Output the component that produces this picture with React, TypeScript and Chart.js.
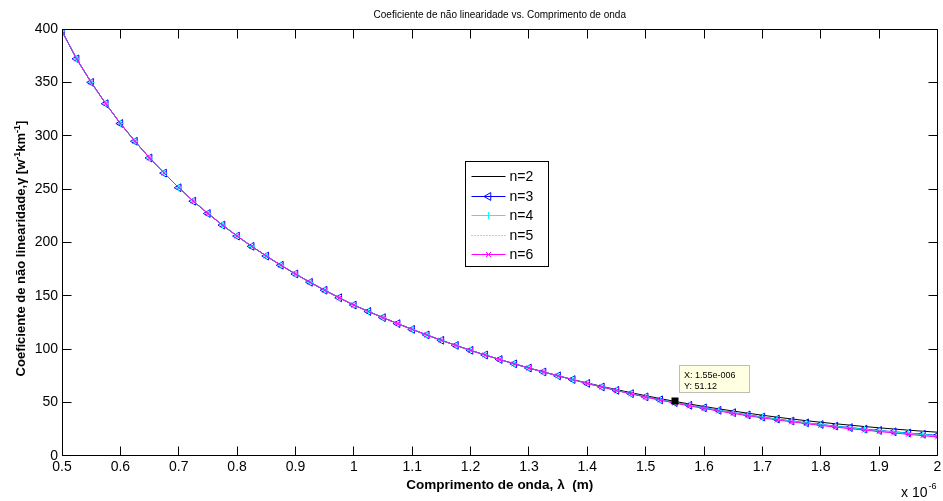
import React, { useEffect, useRef } from "react";
import { Chart, registerables } from "chart.js";

Chart.register(...registerables);

// ---- data (wavelength in µm, shown with "x 10^-6" multiplier) ----
const wavelengthUm = [
  0.5, 0.525, 0.55, 0.575, 0.6, 0.625, 0.65, 0.675, 0.7, 0.725,
  0.75, 0.775, 0.8, 0.825, 0.85, 0.875, 0.9, 0.925, 0.95, 0.975,
  1.0, 1.025, 1.05, 1.075, 1.1, 1.125, 1.15, 1.175, 1.2, 1.225,
  1.25, 1.275, 1.3, 1.325, 1.35, 1.375, 1.4, 1.425, 1.45, 1.475,
  1.5, 1.525, 1.55, 1.575, 1.6, 1.625, 1.65, 1.675, 1.7, 1.725,
  1.75, 1.775, 1.8, 1.825, 1.85, 1.875, 1.9, 1.925, 1.95, 1.975, 2.0,
];

// common part of all curves (0.5 .. 1.375 µm)
const gammaShared = [
  398, 372, 350, 330, 311.5, 294.8, 279.2, 265, 251.3, 238.7,
  227.2, 216.3, 206, 196.4, 187.3, 178.7, 170.5, 162.7, 155.3, 148.2,
  141.4, 135.4, 129.6, 124.0, 118.6, 113.4, 108.4, 103.6, 99.0, 94.6,
  90.4, 86.3, 82.4, 78.7, 75.1, 71.6,
];

// 1.4 .. 2.0 µm, per series
const gammaTailN2 = [68.4, 65.2, 62.2, 59.3, 56.5, 53.8, 51.12, 48.7, 46.4, 44.2, 42.1, 40.1, 38.2, 36.4, 34.7, 33.1, 31.6, 30.2, 28.9, 27.6, 26.4, 25.3, 24.2, 23.2, 22.3];
const gammaTailN3 = [68.0, 64.7, 61.5, 58.4, 55.4, 52.6, 50.0, 47.5, 45.1, 42.8, 40.6, 38.5, 36.5, 34.6, 32.8, 31.1, 29.5, 28.0, 26.6, 25.2, 23.9, 22.7, 21.5, 20.4, 19.3];
const gammaTailN4 = [68.0, 64.7, 61.5, 58.4, 55.4, 52.5, 49.9, 47.3, 44.9, 42.6, 40.4, 38.3, 36.3, 34.4, 32.6, 30.9, 29.3, 27.8, 26.3, 24.9, 23.6, 22.4, 21.2, 20.1, 19.0];
const gammaTailN5 = [67.9, 64.6, 61.4, 58.3, 55.3, 52.4, 49.7, 47.1, 44.7, 42.4, 40.1, 38.0, 36.0, 34.1, 32.3, 30.6, 29.0, 27.4, 25.9, 24.5, 23.2, 22.0, 20.8, 19.7, 18.6];
const gammaTailN6 = [67.9, 64.6, 61.3, 58.2, 55.2, 52.3, 49.6, 47.0, 44.5, 42.1, 39.9, 37.7, 35.7, 33.8, 32.0, 30.3, 28.6, 27.1, 25.6, 24.2, 22.9, 21.6, 20.3, 19.0, 17.8];

const seriesLabels = ["n=2", "n=3", "n=4", "n=5", "n=6"];
const xTickValues = [0.5, 0.6, 0.7, 0.8, 0.9, 1.0, 1.1, 1.2, 1.3, 1.4, 1.5, 1.6, 1.7, 1.8, 1.9, 2.0];
const yTickValues = [0, 50, 100, 150, 200, 250, 300, 350, 400];

const chartTitle = "Coeficiente de não linearidade vs. Comprimento de onda";
const xAxisTitle = "Comprimento de onda, λ  (m)";
// y axis title pieces: [text, isSuperscript]
const yAxisTitleParts: [string, boolean][] = [
  ["Coeficiente de não linearidade,γ [w", false],
  ["-1", true],
  ["km", false],
  ["-1", true],
  ["]", false],
];
const xExponentBase = "x 10";
const xExponentPower = "-6";
const datatipX = 1.55;
const datatipY = 51.12;
const datatipLines = ["X: 1.55e-006", "Y: 51.12"];

const FONT = '"Liberation Sans", Arial, Helvetica, sans-serif';

type SeriesStyle = { color: string; marker: "none" | "triangleLeft" | "plus" | "x"; dash: number[] };
const seriesStyles: SeriesStyle[] = [
  { color: "#000000", marker: "none", dash: [] },
  { color: "#0000ff", marker: "triangleLeft", dash: [] },
  { color: "#00ffff", marker: "plus", dash: [] },
  { color: "#00ff00", marker: "none", dash: [1, 2] },
  { color: "#ff00ff", marker: "x", dash: [] },
];

function drawMarker(ctx: CanvasRenderingContext2D, kind: string, x: number, y: number, color: string) {
  ctx.save();
  ctx.strokeStyle = color;
  ctx.lineWidth = 1;
  ctx.setLineDash([]);
  ctx.beginPath();
  if (kind === "triangleLeft") {
    const r = 4.5;
    let rad = (270 * Math.PI) / 180;
    ctx.moveTo(x + Math.sin(rad) * r, y - Math.cos(rad) * r);
    rad += (2 * Math.PI) / 3;
    ctx.lineTo(x + Math.sin(rad) * r, y - Math.cos(rad) * r);
    rad += (2 * Math.PI) / 3;
    ctx.lineTo(x + Math.sin(rad) * r, y - Math.cos(rad) * r);
    ctx.closePath();
  } else if (kind === "plus") {
    ctx.moveTo(x - 3.5, y);
    ctx.lineTo(x + 3.5, y);
    ctx.moveTo(x, y - 3.5);
    ctx.lineTo(x, y + 3.5);
  } else if (kind === "x") {
    ctx.moveTo(x - 2.5, y - 2.5);
    ctx.lineTo(x + 2.5, y + 2.5);
    ctx.moveTo(x - 2.5, y + 2.5);
    ctx.lineTo(x + 2.5, y - 2.5);
  }
  ctx.stroke();
  ctx.restore();
}

const matlabDecor = {
  id: "matlabDecor",
  beforeDraw(chart: any) {
    const { ctx, width, height } = chart;
    ctx.save();
    ctx.fillStyle = "#ffffff";
    ctx.fillRect(0, 0, width, height);
    ctx.restore();
  },
  afterDraw(chart: any) {
    const { ctx, chartArea: ca } = chart;
    const xs = chart.scales.x;
    const ys = chart.scales.y;
    const L = Math.floor(ca.left) + 0.5;
    const R = Math.ceil(ca.right) - 0.5;
    const T = Math.floor(ca.top) + 0.5;
    const B = Math.ceil(ca.bottom) - 0.5;
    const tick = 9;
    ctx.save();
    ctx.strokeStyle = "#000";
    ctx.lineWidth = 1;
    ctx.setLineDash([]);
    ctx.beginPath();
    ctx.rect(L, T, R - L, B - T);
    xTickValues.forEach((v) => {
      const px = Math.min(Math.max(Math.floor(xs.getPixelForValue(v)) + 0.5, L), R);
      ctx.moveTo(px, B);
      ctx.lineTo(px, B - tick);
      ctx.moveTo(px, T);
      ctx.lineTo(px, T + tick);
    });
    yTickValues.forEach((v) => {
      const py = Math.min(Math.max(Math.floor(ys.getPixelForValue(v)) + 0.5, T), B);
      ctx.moveTo(L, py);
      ctx.lineTo(L + tick, py);
      ctx.moveTo(R, py);
      ctx.lineTo(R - tick, py);
    });
    ctx.stroke();

    // y axis title (rotated, with superscripts)
    const mainFont = `bold 13px ${FONT}`;
    const supFont = `bold 9px ${FONT}`;
    let total = 0;
    yAxisTitleParts.forEach(([t, sup]) => {
      ctx.font = sup ? supFont : mainFont;
      total += ctx.measureText(t).width;
    });
    ctx.save();
    ctx.translate(20.5, (ca.top + ca.bottom) / 2 + 6);
    ctx.rotate(-Math.PI / 2);
    ctx.fillStyle = "#000";
    ctx.textAlign = "left";
    ctx.textBaseline = "alphabetic";
    let cx = -total / 2;
    yAxisTitleParts.forEach(([t, sup]) => {
      ctx.font = sup ? supFont : mainFont;
      ctx.fillText(t, cx, sup ? -1 : 4.5);
      cx += ctx.measureText(t).width;
    });
    ctx.restore();

    // exponent label of the x axis
    ctx.fillStyle = "#000";
    ctx.font = `14px ${FONT}`;
    ctx.textAlign = "right";
    ctx.textBaseline = "alphabetic";
    const baseRight = ca.right - 10;
    ctx.fillText(xExponentBase, baseRight, 497);
    ctx.font = `9px ${FONT}`;
    ctx.textAlign = "left";
    ctx.fillText(xExponentPower, baseRight + 1, 489);

    // legend box
    const w = ca.right - ca.left;
    const h = ca.bottom - ca.top;
    const lx = Math.round(ca.left + 0.4607 * w) + 0.5;
    const ly = Math.round(ca.top + 0.309 * h) + 0.5;
    const lw = 83;
    const lh = 105;
    ctx.fillStyle = "#fff";
    ctx.fillRect(lx, ly, lw, lh);
    ctx.strokeStyle = "#000";
    ctx.strokeRect(lx, ly, lw, lh);
    seriesLabels.forEach((label, i) => {
      const st = seriesStyles[i];
      const cy = Math.round(ly + 14.7 + i * 19.5) + 0.5;
      ctx.save();
      ctx.strokeStyle = st.color;
      ctx.lineWidth = 1;
      ctx.setLineDash(st.dash);
      ctx.beginPath();
      ctx.moveTo(lx + 6, cy);
      ctx.lineTo(lx + 40, cy);
      ctx.stroke();
      ctx.restore();
      if (st.marker !== "none") drawMarker(ctx, st.marker, lx + 23, cy, st.color);
      ctx.fillStyle = "#000";
      ctx.font = `14px ${FONT}`;
      ctx.textAlign = "left";
      ctx.textBaseline = "middle";
      ctx.fillText(label, lx + 44, cy + 0.5);
    });

    // data tip
    const px = xs.getPixelForValue(datatipX);
    const py = ys.getPixelForValue(datatipY);
    ctx.fillStyle = "#000";
    ctx.fillRect(Math.round(px) - 3.5, Math.round(py) - 3.5, 7, 7);
    const bx = Math.round(px) + 4.5;
    const by = Math.round(py) - 35.5;
    ctx.fillStyle = "rgb(255,255,225)";
    ctx.fillRect(bx, by, 70, 27);
    ctx.strokeStyle = "rgb(190,190,180)";
    ctx.strokeRect(bx, by, 70, 27);
    ctx.fillStyle = "#000";
    ctx.font = `9px ${FONT}`;
    ctx.textAlign = "left";
    ctx.textBaseline = "middle";
    ctx.fillText(datatipLines[0], bx + 4.5, by + 10);
    ctx.fillText(datatipLines[1], bx + 4.5, by + 21);
    ctx.restore();
  },
};

function buildSeries(tail: number[]) {
  const ys = gammaShared.concat(tail);
  return wavelengthUm.map((x, i) => ({ x, y: ys[i] }));
}

export default function App() {
  const ref = useRef<HTMLCanvasElement>(null);
  useEffect(() => {
    const canvas = ref.current;
    if (!canvas) return;
    const tails = [gammaTailN2, gammaTailN3, gammaTailN4, gammaTailN5, gammaTailN6];
    const pointStyles: any[] = [false, "triangle", "cross", false, "crossRot"];
    const pointRadii = [0, 4.5, 3.5, 0, 3.5];
    const datasets = seriesLabels.map((label, i) => ({
      label,
      data: buildSeries(tails[i]),
      borderColor: seriesStyles[i].color,
      backgroundColor: "rgba(0,0,0,0)",
      borderWidth: 1,
      borderDash: seriesStyles[i].dash,
      pointStyle: pointStyles[i],
      pointRadius: pointRadii[i],
      pointRotation: i === 1 ? 270 : 0,
      pointBorderColor: seriesStyles[i].color,
      pointBackgroundColor: "rgba(0,0,0,0)",
      pointBorderWidth: 1,
      tension: 0,
      fill: false,
      order: 5 - i,
    }));
    const chart = new Chart(canvas, {
      type: "line",
      data: { datasets },
      options: {
        responsive: false,
        animation: false,
        devicePixelRatio: 1,
        events: [],
        layout: { padding: { left: 0, right: 1, top: 0, bottom: 0 } },
        plugins: {
          legend: { display: false },
          tooltip: { enabled: false },
          title: {
            display: true,
            text: chartTitle,
            fullSize: false,
            color: "#000",
            font: { family: FONT, size: 10, weight: "normal" },
            padding: { top: 9, bottom: 8 },
          },
        },
        scales: {
          x: {
            type: "linear",
            min: 0.5,
            max: 2.0,
            grid: { display: false, drawTicks: false },
            border: { display: false },
            afterBuildTicks: (s: any) => {
              s.ticks = xTickValues.map((value) => ({ value }));
            },
            afterFit: (s: any) => {
              s.height = 45;
              s.paddingLeft = 0;
              s.paddingRight = 0;
            },
            ticks: {
              color: "#000",
              font: { family: FONT, size: 14 },
              padding: 3,
              maxRotation: 0,
              autoSkip: false,
              callback: (v: any) => String(Math.round(Number(v) * 10) / 10),
            },
            title: {
              display: true,
              text: xAxisTitle,
              color: "#000",
              font: { family: FONT, size: 13.5, weight: "bold" },
              padding: { top: 0, bottom: 8 },
            },
          },
          y: {
            type: "linear",
            min: 0,
            max: 400,
            grid: { display: false, drawTicks: false },
            border: { display: false },
            afterBuildTicks: (s: any) => {
              s.ticks = yTickValues.map((value) => ({ value }));
            },
            afterFit: (s: any) => {
              s.width = 62;
              s.paddingTop = 0;
              s.paddingBottom = 0;
            },
            ticks: {
              color: "#000",
              font: { family: FONT, size: 14 },
              padding: 4,
              autoSkip: false,
            },
            title: { display: false },
          },
        },
      } as any,
      plugins: [matlabDecor],
    });
    return () => chart.destroy();
  }, []);
  return (
    <div style={{ position: "absolute", left: 0, top: 0, width: 943, height: 501, background: "#fff" }}>
      <canvas ref={ref} width={943} height={501} style={{ display: "block" }} />
    </div>
  );
}
